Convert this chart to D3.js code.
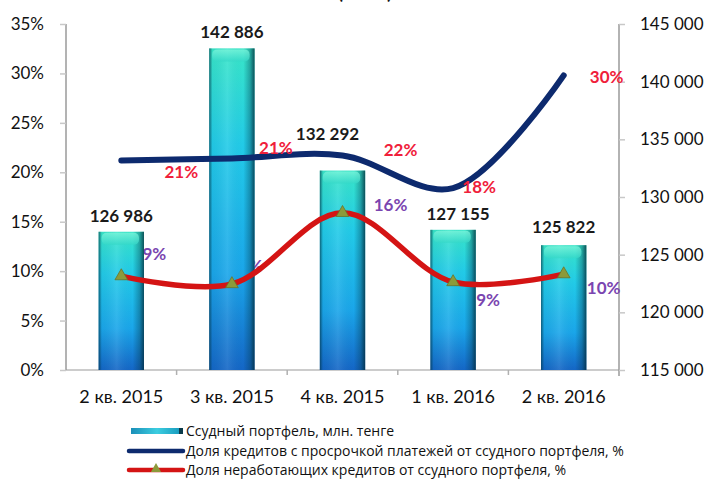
<!DOCTYPE html>
<html lang="ru">
<head>
<meta charset="UTF-8">
<title>Ссудный портфель</title>
<style>
  html, body { margin: 0; padding: 0; background: #fff; }
  body { width: 710px; height: 479px; overflow: hidden; font-family: "Lato", "Open Sans", Arial, sans-serif; }
</style>
</head>
<body>
<svg id="svg" width="710" height="479"></svg>
<script src="https://d3js.org/d3.v7.min.js"></script>
<script>
// data
const categories = ["2 кв. 2015", "3 кв. 2015", "4 кв. 2015", "1 кв. 2016", "2 кв. 2016"];
const portfolio = [126986, 142886, 132292, 127155, 125822];          // млн. тенге
const overdueShare = [21.2, 21.4, 21.7, 18.4, 29.8];                  // %
const overdueLabels = ["21%", "21%", "22%", "18%", "30%"];
const npShare = [9.5, 8.7, 15.9, 8.9, 9.7];                           // %
const npLabels = ["9%", "9%", "16%", "9%", "10%"];
const leftTicks = [0, 5, 10, 15, 20, 25, 30, 35];
const rightTicks = [115000, 120000, 125000, 130000, 135000, 140000, 145000];
const legendItems = [
  "Ссудный портфель, млн. тенге",
  "Доля кредитов с просрочкой платежей от ссудного портфеля, %",
  "Доля неработающих кредитов от ссудного портфеля, %"
];

// layout
const plot = { left: 66, right: 619, top: 24, bottom: 370 };
// label nudges (px) relative to their marks
const barLabelOff = [[0, -16], [0, -16], [-15, -37], [5, -16], [0, -18]];
const blueLabelOff = [[60, 12], [44, -10], [58, -5], [26, -1], [43, 2]];
const purpleLabelOff = [[33, -22], [19, -18], [48, -8], [35, 18], [40, 14]];

const svg = d3.select("#svg");
const fmtSpace = d3.formatLocale({ decimal: ",", thousands: " ", grouping: [3], currency: ["", ""] }).format(",d");

const x = d3.scaleBand().domain(categories).range([plot.left, plot.right]).padding(0);
const cx = c => x(c) + x.bandwidth() / 2;
const barW = x.bandwidth() * 0.41;
const yL = d3.scaleLinear().domain([0, 35]).range([plot.bottom, plot.top]);
const yR = d3.scaleLinear().domain([115000, 145000]).range([plot.bottom, plot.top]);

// gradients
const defs = svg.append("defs");
const gv = defs.append("linearGradient").attr("id", "barV").attr("x1", 0).attr("y1", 0).attr("x2", 0).attr("y2", 1);
gv.append("stop").attr("offset", "0%").attr("stop-color", "#38e6c8");
gv.append("stop").attr("offset", "30%").attr("stop-color", "#22cbe8");
gv.append("stop").attr("offset", "70%").attr("stop-color", "#1aa6ea");
gv.append("stop").attr("offset", "100%").attr("stop-color", "#1466c6");
const gh = defs.append("linearGradient").attr("id", "barH").attr("x1", 0).attr("y1", 0).attr("x2", 1).attr("y2", 0);
gh.append("stop").attr("offset", "0%").attr("stop-color", "#03384a").attr("stop-opacity", 0.7);
gh.append("stop").attr("offset", "7%").attr("stop-color", "#03384a").attr("stop-opacity", 0.05);
gh.append("stop").attr("offset", "40%").attr("stop-color", "#ffffff").attr("stop-opacity", 0.1);
gh.append("stop").attr("offset", "75%").attr("stop-color", "#03384a").attr("stop-opacity", 0.0);
gh.append("stop").attr("offset", "90%").attr("stop-color", "#03384a").attr("stop-opacity", 0.35);
gh.append("stop").attr("offset", "100%").attr("stop-color", "#022a38").attr("stop-opacity", 0.8);
const gc = defs.append("linearGradient").attr("id", "cap").attr("x1", 0).attr("y1", 0).attr("x2", 0).attr("y2", 1);
gc.append("stop").attr("offset", "0%").attr("stop-color", "#7ff5dc");
gc.append("stop").attr("offset", "100%").attr("stop-color", "#34d8c8");
const gl = defs.append("linearGradient").attr("id", "legBar").attr("x1", 0).attr("y1", 0).attr("x2", 1).attr("y2", 0);
gl.append("stop").attr("offset", "0%").attr("stop-color", "#1a8fb8");
gl.append("stop").attr("offset", "50%").attr("stop-color", "#3ccde0");
gl.append("stop").attr("offset", "92%").attr("stop-color", "#1a9ec0");
gl.append("stop").attr("offset", "93%").attr("stop-color", "#0a3a4a");
gl.append("stop").attr("offset", "100%").attr("stop-color", "#0a3a4a");

// cut-off title at the top
svg.append("text").attr("x", 365).attr("y", -1).attr("text-anchor", "middle")
  .attr("font-size", 19).attr("font-weight", "bold").attr("fill", "#111").text("(2016)");

// axes
const axL = svg.append("g").attr("transform", `translate(${plot.left},0)`)
  .call(d3.axisLeft(yL).tickValues(leftTicks).tickFormat(d => d + "%").tickSize(6).tickPadding(16));
const axR = svg.append("g").attr("transform", `translate(${plot.right},0)`)
  .call(d3.axisRight(yR).tickValues(rightTicks).tickFormat(fmtSpace).tickSize(6).tickPadding(15));
[axL, axR].forEach(g => {
  g.select(".domain").attr("stroke", "#8a8a8a").attr("stroke-width", 1.3);
  g.selectAll(".tick line").attr("stroke", "#c8c8c8").attr("stroke-width", 1.5);
  g.selectAll(".tick text").attr("font-size", 17).attr("fill", "#111").attr("font-family", "Lato, sans-serif");
});
axL.select(".domain").attr("d", `M0,${plot.top}V${plot.bottom}`);
axR.select(".domain").attr("d", `M0,${plot.top}V${plot.bottom + 6}`);

const axB = svg.append("g").attr("transform", `translate(0,${plot.bottom})`)
  .call(d3.axisBottom(x).tickSize(0).tickPadding(20));
axB.select(".domain").attr("stroke", "#9a9a9a").attr("stroke-width", 1.2).attr("d", `M${plot.left},0H${plot.right}`);
axB.selectAll(".tick text").attr("font-size", 18).attr("fill", "#111").attr("font-family", "Lato, sans-serif");
svg.append("g").selectAll("line").data(d3.range(1, categories.length)).join("line")
  .attr("x1", i => plot.left + i * x.step()).attr("x2", i => plot.left + i * x.step())
  .attr("y1", plot.bottom).attr("y2", plot.bottom + 5)
  .attr("stroke", "#b0b0b0").attr("stroke-width", 1.5);

// purple labels sit behind bars
const labelFont = "Lato, sans-serif";
svg.append("g").selectAll("text").data(npShare).join("text")
  .attr("x", (d, i) => cx(categories[i]) + purpleLabelOff[i][0])
  .attr("y", (d, i) => yL(d) + purpleLabelOff[i][1])
  .attr("dy", "0.35em").attr("text-anchor", "middle")
  .attr("font-size", 17).attr("font-weight", "bold").attr("font-family", labelFont)
  .attr("fill", "#7a45b0").text((d, i) => npLabels[i]);

// bars
const bars = svg.append("g").selectAll("g").data(portfolio).join("g")
  .attr("transform", (d, i) => `translate(${cx(categories[i]) - barW / 2},${yR(d)})`);
bars.append("rect").attr("width", barW).attr("height", d => plot.bottom - yR(d)).attr("fill", "url(#barV)");
bars.append("rect").attr("width", barW).attr("height", d => plot.bottom - yR(d)).attr("fill", "url(#barH)");
bars.append("rect").attr("x", 3).attr("y", 1).attr("width", barW - 8).attr("height", 12).attr("rx", 5)
  .attr("fill", "url(#cap)").attr("opacity", 0.75);

// bar value labels
svg.append("g").selectAll("text").data(portfolio).join("text")
  .attr("x", (d, i) => cx(categories[i]) + barLabelOff[i][0])
  .attr("y", (d, i) => yR(d) + barLabelOff[i][1])
  .attr("dy", "0.35em").attr("text-anchor", "middle")
  .attr("font-size", 17).attr("font-weight", "bold").attr("font-family", labelFont)
  .attr("fill", "#1a1a1a").text(d => fmtSpace(d));

// lines
const lineL = d3.line().x((d, i) => cx(categories[i])).y(d => yL(d)).curve(d3.curveCatmullRom.alpha(0.5));
svg.append("path").datum(npShare).attr("d", lineL)
  .attr("fill", "none").attr("stroke", "#d41414").attr("stroke-width", 5.5).attr("stroke-linecap", "round");
svg.append("path").datum(overdueShare).attr("d", lineL)
  .attr("fill", "none").attr("stroke", "#0d2a6e").attr("stroke-width", 6).attr("stroke-linecap", "round");

// triangle markers
const tri = d3.symbol().type(d3.symbolTriangle).size(70);
svg.append("g").selectAll("path").data(npShare).join("path")
  .attr("d", tri).attr("transform", (d, i) => `translate(${cx(categories[i])},${yL(d)})`)
  .attr("fill", "#8c9a3a").attr("stroke", "#6a7428").attr("stroke-width", 0.8);

// red labels for blue line
svg.append("g").selectAll("text").data(overdueShare).join("text")
  .attr("x", (d, i) => cx(categories[i]) + blueLabelOff[i][0])
  .attr("y", (d, i) => yL(d) + blueLabelOff[i][1])
  .attr("dy", "0.35em").attr("text-anchor", "middle")
  .attr("font-size", 17).attr("font-weight", "bold").attr("font-family", labelFont)
  .attr("fill", "#f0203a").text((d, i) => overdueLabels[i]);

// legend
const leg = svg.append("g");
const rowY = [431, 451, 470];
leg.append("rect").attr("x", 131).attr("y", rowY[0] - 3).attr("width", 52).attr("height", 6).attr("fill", "url(#legBar)");
leg.append("line").attr("x1", 129).attr("x2", 183).attr("y1", rowY[1]).attr("y2", rowY[1])
  .attr("stroke", "#0d2a6e").attr("stroke-width", 4.5).attr("stroke-linecap", "round");
leg.append("line").attr("x1", 129).attr("x2", 183).attr("y1", rowY[2]).attr("y2", rowY[2])
  .attr("stroke", "#d41414").attr("stroke-width", 4.5).attr("stroke-linecap", "round");
leg.append("path").attr("d", d3.symbol().type(d3.symbolTriangle).size(45))
  .attr("transform", `translate(156,${rowY[2] - 1})`).attr("fill", "#8c9a3a");
leg.selectAll("text").data(legendItems).join("text")
  .attr("x", 186).attr("y", (d, i) => rowY[i]).attr("dy", "0.35em")
  .attr("font-size", 14).attr("font-family", "'Open Sans', sans-serif").attr("fill", "#111")
  .text(d => d);
</script>
</body>
</html>
